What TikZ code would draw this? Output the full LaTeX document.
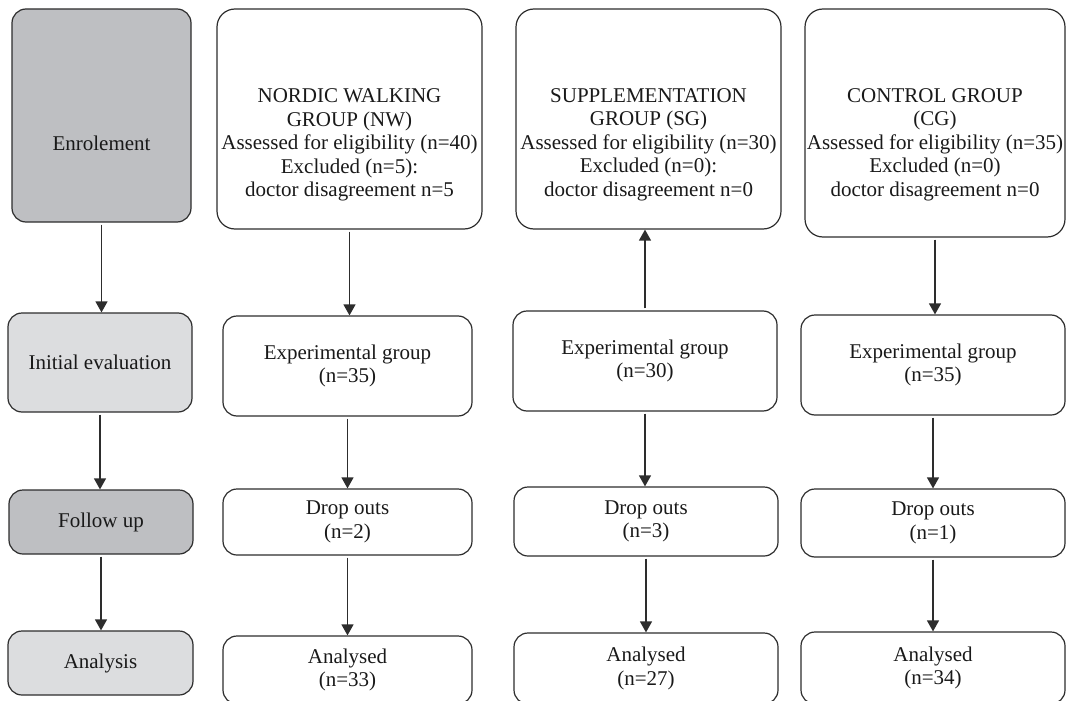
\documentclass[tikz,border=0pt]{standalone}
\usepackage{fontspec}
\setmainfont{Liberation Serif}
\usetikzlibrary{arrows.meta}
\definecolor{darkfill}{RGB}{190,191,194}
\definecolor{lightfill}{RGB}{220,221,223}
\definecolor{edge}{RGB}{45,45,45}
\begin{document}
\begin{tikzpicture}[x=1pt,y=-1pt,
  txt/.style={align=center, font=\fontsize{21}{23.5}\selectfont, inner sep=0pt, text=black!90},
  box/.style={txt, draw=edge, line width=1.2pt, rounded corners=14pt},
  bigbox/.style={box, rounded corners=18pt},
  arr/.style={draw=edge, line width=1.3pt, -{Triangle[width=12pt,length=11pt]}, shorten <=2pt}
]
\useasboundingbox (0,0) rectangle (1066,701);
% row 1
\node[box, fill=darkfill, minimum width=179pt, minimum height=213pt] (enrol) at (101.5,115.5) {};
\node[txt] (enroltext) at (101.5,143) {Enrolement};
\node[bigbox, minimum width=265pt, minimum height=220pt] (nwtop) at (349.5,119) {};
\node[txt] (nwtoptext) at (349.5,145)
  {NORDIC WALKING\\GROUP (NW)\\Assessed for eligibility (n=40)\\Excluded (n=5):\\doctor disagreement n=5};
\node[bigbox, minimum width=265pt, minimum height=220pt] (sgtop) at (648.5,119) {};
\node[txt] (sgtoptext) at (648.5,144.5)
  {SUPPLEMENTATION\\GROUP (SG)\\Assessed for eligibility (n=30)\\Excluded (n=0):\\doctor disagreement n=0};
\node[bigbox, minimum width=260pt, minimum height=228pt] (cgtop) at (935,123) {};
\node[txt] (cgtoptext) at (935,144.5)
  {CONTROL GROUP\\(CG)\\Assessed for eligibility (n=35)\\Excluded (n=0)\\doctor disagreement n=0};
% row 2
\node[box, fill=lightfill, minimum width=184pt, minimum height=99pt] (init) at (100,362.5) {Initial evaluation};
\node[box, minimum width=249pt, minimum height=100pt] (nwexp) at (347.5,366) {Experimental group\\(n=35)};
\node[box, minimum width=264pt, minimum height=100pt] (sgexp) at (645,361) {Experimental group\\(n=30)};
\node[box, minimum width=264pt, minimum height=100pt] (cgexp) at (933,365) {Experimental group\\(n=35)};
% row 3
\node[box, fill=darkfill, minimum width=184pt, minimum height=64pt] (follow) at (101,522) {Follow up};
\node[box, minimum width=249pt, minimum height=66pt] (nwdrop) at (347.5,522) {Drop outs\\(n=2)};
\node[box, minimum width=264pt, minimum height=69pt] (sgdrop) at (646,521.5) {Drop outs\\(n=3)};
\node[box, minimum width=264pt, minimum height=68pt] (cgdrop) at (933,523) {Drop outs\\(n=1)};
% row 4
\node[box, fill=lightfill, minimum width=185pt, minimum height=64pt] (anal) at (100.5,663) {Analysis};
\node[box, minimum width=249pt, minimum height=68pt] (nwan) at (347.5,670) {Analysed\\(n=33)};
\node[box, minimum width=264pt, minimum height=71pt] (sgan) at (646,668.5) {Analysed\\(n=27)};
\node[box, minimum width=264pt, minimum height=72pt] (cgan) at (933,668) {Analysed\\(n=34)};
% arrows
\draw[arr] (enrol.south) -- (enrol.south |- init.north);
\draw[arr] (init.south) -- (init.south |- follow.north);
\draw[arr] (follow.south) -- (follow.south |- anal.north);
\draw[arr] (nwtop.south) -- (nwtop.south |- nwexp.north);
\draw[arr] (nwexp.south) -- (nwexp.south |- nwdrop.north);
\draw[arr] (nwdrop.south) -- (nwdrop.south |- nwan.north);
\draw[arr] (sgexp.north) -- (sgexp.north |- sgtop.south);
\draw[arr] (sgexp.south) -- (sgexp.south |- sgdrop.north);
\draw[arr] (sgdrop.south) -- (sgdrop.south |- sgan.north);
\draw[arr] (cgtop.south) -- (cgtop.south |- cgexp.north);
\draw[arr] (cgexp.south) -- (cgexp.south |- cgdrop.north);
\draw[arr] (cgdrop.south) -- (cgdrop.south |- cgan.north);
\end{tikzpicture}
\end{document}
